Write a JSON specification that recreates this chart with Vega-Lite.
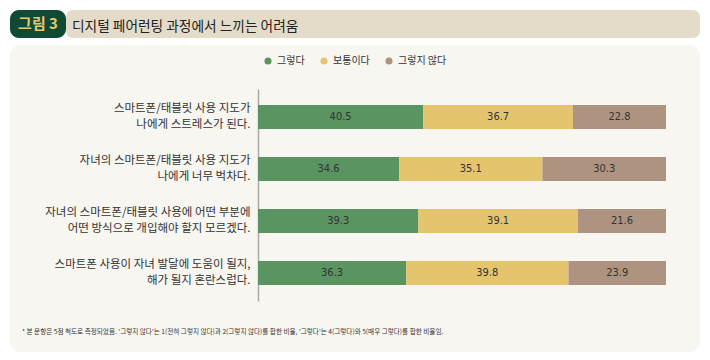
{
  "$schema": "https://vega.github.io/schema/vega-lite/v6.json",
  "background": "#ffffff",
  "padding": {"left": 10, "right": 10, "top": 10, "bottom": 8},
  "config": {"view": {"stroke": null}, "font": "Noto Sans CJK KR"},
  "spacing": 7,
  "vconcat": [
    {
      "spacing": 0,
      "hconcat": [
        {
          "width": 56,
          "height": 28,
          "view": {"fill": "#0e4a34", "cornerRadius": 9, "stroke": null},
          "data": {"values": [{"t": "그림 3"}]},
          "mark": {"type": "text", "color": "#e9c870", "fontSize": 15, "fontWeight": "bold", "font": "Noto Sans CJK KR"},
          "encoding": {"text": {"field": "t", "type": "nominal"}}
        },
        {
          "width": 634,
          "height": 28,
          "view": {"fill": "#e4dcc8", "cornerRadius": 7, "stroke": null},
          "title": {
            "text": "디지털 페어런팅 과정에서 느끼는 어려움",
            "orient": "top",
            "anchor": "start",
            "frame": "group",
            "offset": -14,
            "baseline": "middle",
            "dx": 6,
            "dy": 17,
            "fontSize": 13.7,
            "fontWeight": "normal",
            "color": "#222222",
            "font": "Noto Sans CJK KR"
          },
          "data": {"values": []},
          "mark": {"type": "text"},
          "encoding": {"text": {"field": "t", "type": "nominal"}}
        }
      ]
    },
    {
      "width": 690,
      "height": 307,
      "view": {"fill": "#f8f6f1", "cornerRadius": 10, "stroke": null},
      "data": {
        "values": [
          {"item": "스마트폰/태블릿 사용 지도가\n나에게 스트레스가 된다.", "category": "그렇다", "ord": 1, "value": 40.5},
          {"item": "스마트폰/태블릿 사용 지도가\n나에게 스트레스가 된다.", "category": "보통이다", "ord": 2, "value": 36.7},
          {"item": "스마트폰/태블릿 사용 지도가\n나에게 스트레스가 된다.", "category": "그렇지 않다", "ord": 3, "value": 22.8},
          {"item": "자녀의 스마트폰/태블릿 사용 지도가\n나에게 너무 벅차다.", "category": "그렇다", "ord": 1, "value": 34.6},
          {"item": "자녀의 스마트폰/태블릿 사용 지도가\n나에게 너무 벅차다.", "category": "보통이다", "ord": 2, "value": 35.1},
          {"item": "자녀의 스마트폰/태블릿 사용 지도가\n나에게 너무 벅차다.", "category": "그렇지 않다", "ord": 3, "value": 30.3},
          {"item": "자녀의 스마트폰/태블릿 사용에 어떤 부분에\n어떤 방식으로 개입해야 할지 모르겠다.", "category": "그렇다", "ord": 1, "value": 39.3},
          {"item": "자녀의 스마트폰/태블릿 사용에 어떤 부분에\n어떤 방식으로 개입해야 할지 모르겠다.", "category": "보통이다", "ord": 2, "value": 39.1},
          {"item": "자녀의 스마트폰/태블릿 사용에 어떤 부분에\n어떤 방식으로 개입해야 할지 모르겠다.", "category": "그렇지 않다", "ord": 3, "value": 21.6},
          {"item": "스마트폰 사용이 자녀 발달에 도움이 될지,\n해가 될지 혼란스럽다.", "category": "그렇다", "ord": 1, "value": 36.3},
          {"item": "스마트폰 사용이 자녀 발달에 도움이 될지,\n해가 될지 혼란스럽다.", "category": "보통이다", "ord": 2, "value": 39.8},
          {"item": "스마트폰 사용이 자녀 발달에 도움이 될지,\n해가 될지 혼란스럽다.", "category": "그렇지 않다", "ord": 3, "value": 23.9}
        ]
      },
      "transform": [
        {"stack": "value", "groupby": ["item"], "sort": [{"field": "ord", "order": "ascending"}], "as": ["v0", "v1"]},
        {"calculate": "(datum.v0 + datum.v1) / 2", "as": "mid"}
      ],
      "title": {
        "text": "* 본 문항은 5점 척도로 측정되었음. '그렇지 않다'는 1(전혀 그렇지 않다)과 2(그렇지 않다)를 합한 비율, '그렇다'는 4(그렇다)와 5(매우 그렇다)를 합한 비율임.",
        "orient": "bottom",
        "anchor": "start",
        "frame": "group",
        "offset": -23,
        "dx": 12,
        "fontSize": 6.6,
        "fontWeight": "normal",
        "color": "#333333",
        "font": "Noto Sans CJK KR"
      },
      "encoding": {
        "y": {
          "field": "item",
          "type": "nominal",
          "sort": null,
          "scale": {"range": [44, 256], "paddingInner": 0.54, "paddingOuter": 0.31},
          "axis": {
            "title": null,
            "offset": -248,
            "ticks": false,
            "domainColor": "#a8a8a8",
            "domainWidth": 1.5,
            "labelPadding": 8,
            "labelFontSize": 11.5,
            "labelColor": "#333333",
            "labelLimit": 400,
            "labelLineHeight": 15.5,
            "labelOffset": -7.75,
            "labelFont": "Noto Sans CJK KR",
            "labelExpr": "split(datum.label, '\\n')"
          }
        }
      },
      "layer": [
        {
          "mark": {"type": "bar"},
          "encoding": {
            "x": {
              "field": "v0",
              "type": "quantitative",
              "scale": {"domain": [0, 100], "range": [248, 656], "nice": false, "zero": false},
              "axis": null
            },
            "x2": {"field": "v1"},
            "color": {
              "field": "category",
              "type": "nominal",
              "sort": ["그렇다", "보통이다", "그렇지 않다"],
              "scale": {"domain": ["그렇다", "보통이다", "그렇지 않다"], "range": ["#5a9460", "#e4c56e", "#ae9480"]},
              "legend": {
                "orient": "none",
                "legendX": 253,
                "legendY": 46,
                "direction": "horizontal",
                "title": null,
                "symbolType": "circle",
                "symbolSize": 50,
                "symbolStrokeWidth": 0,
                "labelFontSize": 10,
                "labelColor": "#333333",
                "labelFont": "Noto Sans CJK KR",
                "labelOffset": 4,
                "columnPadding": 14,
                "padding": 0
              }
            }
          }
        },
        {
          "mark": {"type": "text", "font": "DejaVu Sans Condensed", "fontSize": 11, "color": "#333333"},
          "encoding": {
            "x": {"field": "mid", "type": "quantitative"},
            "text": {"field": "value", "type": "quantitative", "format": ".1f"}
          }
        }
      ]
    }
  ]
}
